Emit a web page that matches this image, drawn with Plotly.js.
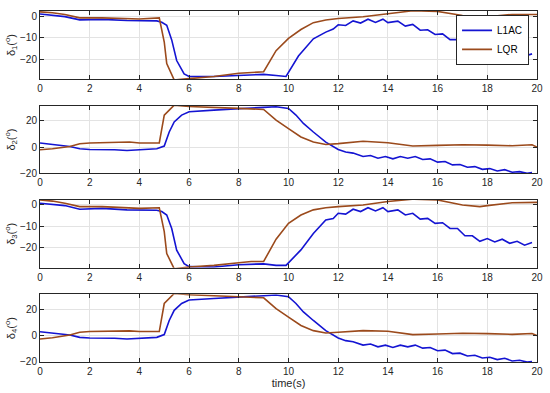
<!DOCTYPE html>
<html>
<head>
<meta charset="utf-8">
<script src="https://cdn.plot.ly/plotly-3.0.1.min.js"></script>
<style>html,body{margin:0;padding:0;background:#fff;}#chart{width:550px;height:393px;}</style>
</head>
<body>
<div id="chart"></div>
<script>
// ---- Data ----
const seriesNames = ['L1AC', 'LQR'];

// delta 1
const t1_lqr = [0,0.5,1.0,1.6,2.5,3.5,4.0,4.8,5.0,5.1,5.4,6,7,8,8.5,9,9.5,10,10.5,11,11.5,12,13,14,15,16,17,17.7,18,19,20];
const d1_lqr = [2.0,1.6,0.8,-0.8,-0.8,-1.2,-1.3,-0.8,-12,-22,-29.6,-29,-28,-26.5,-26,-25.8,-16,-10.3,-6.2,-3,-1.8,-1.1,-0.3,1.2,2.5,2.2,0.3,-0.6,-0.3,0.8,0.8];
const t1_l1 = [0,0.5,1.0,1.6,2.5,3.5,4.0,4.7,4.9,5.1,5.3,5.5,5.8,6,7,8,9,9.5,9.9,10.4,11,11.5,11.8,12,12.3,12.6,12.9,13.2,13.5,13.8,14.0,14.4,14.7,15.0,15.3,15.6,15.9,16.2,16.5,16.8,17.1,17.4,17.7,18,18.3,18.6,18.9,19.2,19.5,19.8];
const d1_l1 = [1.0,0.5,-0.2,-1.7,-1.5,-2.0,-2.0,-2.2,-2.8,-4.2,-11,-20.6,-26.8,-28,-28,-27.5,-27,-27.5,-28,-18.5,-10.5,-7.4,-6,-4,-4.3,-2.2,-3.2,-1.4,-2.9,-1.4,-3,-2.3,-4.6,-3.8,-6.5,-6.3,-8.5,-8.2,-10.9,-10.9,-14.3,-14.3,-16.8,-15.8,-17.3,-16,-17.8,-17,-18.6,-17.5];

// delta 2
const t2_lqr = [0,0.5,1.2,1.6,2,3,3.6,4,4.8,5.0,5.4,6,7,8,9,9.5,10,10.5,11,11.5,12,13,14,14.5,15,16,17,18,19,19.8,20];
const d2_lqr = [-2,-1.3,0.5,2.6,3.1,3.3,3.9,3.1,3.1,24.4,32,31,30,29.5,28.7,20.5,14.1,7.7,3.8,2,2.6,4.4,3.3,2,0.8,1.3,1.8,1.5,1,1.8,0];
const t2_l1 = [0,0.5,1.2,1.6,2,3,3.5,4.7,5.0,5.2,5.4,5.7,6,7,8,9,9.5,10,10.3,10.6,11,11.5,12,12.3,12.6,13,13.3,13.6,13.9,14.2,14.5,14.8,15.1,15.4,15.7,16,16.3,16.6,16.9,17.2,17.5,17.8,18.1,18.4,18.7,19,19.3,19.6,19.8];
const d2_l1 = [3.1,2,0.5,-1.3,-1.8,-2,-2.6,-1.3,0.8,11.5,19.2,24.4,27,28.2,29.5,30.3,30.8,29.5,24.4,18,11.5,3.8,-1.8,-3.8,-4.6,-7.2,-6.4,-8.5,-7.2,-9,-7.2,-8.5,-7.2,-9.5,-9,-11.5,-11,-13.6,-13.3,-15.4,-14.9,-17,-16.4,-18.2,-17.2,-19.2,-18.7,-20,-19.5];

// delta 3
const t3_lqr = [0,0.5,1.0,1.6,2.5,3.5,4.0,4.8,5.0,5.1,5.4,6,7,8,8.5,9,9.5,10,10.5,11,11.5,12,13,14,15,16,17,17.7,18,19,20];
const d3_lqr = [2.3,1.8,0.8,-0.8,-0.8,-1.4,-1.6,-1.3,-12.5,-22.7,-29.8,-29,-28.2,-27,-26.4,-26.4,-16,-8.6,-4.7,-2.3,-1.3,-0.8,0,1.6,2.7,2.3,0,-0.8,-0.3,1,1.2];
const t3_l1 = [0,0.5,1.0,1.6,2.5,3.5,4.0,4.7,4.9,5.1,5.3,5.5,5.8,6,7,8,9,9.5,9.9,10.5,11,11.5,11.8,12,12.3,12.6,12.9,13.2,13.5,13.8,14.0,14.4,14.7,15.0,15.3,15.6,15.9,16.2,16.5,16.8,17.1,17.4,17.7,18,18.3,18.6,18.9,19.2,19.5,19.8];
const d3_l1 = [0.8,0.3,-0.3,-2.0,-1.6,-2.3,-2.3,-2.5,-3.1,-4.7,-11,-21.1,-27.4,-28.8,-29,-27.9,-27.5,-28.2,-28.2,-21,-13.3,-7,-6.3,-3.9,-4.3,-2,-3.1,-1.3,-2.8,-1.3,-3.1,-2.3,-4.7,-3.9,-6.6,-6.3,-8.6,-8.3,-11,-11,-14.4,-14.4,-17,-15.7,-17.3,-16,-17.9,-17,-18.8,-17.5];

// delta 4
const t4_lqr = [0,0.5,1.2,1.6,2,3,3.6,4,4.8,5.0,5.4,6,7,8,9,9.5,10,10.5,11,11.5,12,13,14,14.5,15,16,17,18,19,19.8,20];
const d4_lqr = [-2.5,-1.6,0.5,2.6,3.1,3.3,3.6,3.1,3.1,24.4,32,31,30,29.5,28.7,20.5,14.1,7.7,3.8,2,2.6,3.8,3.3,2,0.8,1.3,1.8,1.5,1,1.6,0];
const t4_l1 = [0,0.5,1.2,1.6,2,3,3.5,4.7,5.0,5.2,5.4,5.7,6,7,8,9,9.5,10,10.3,10.6,11,11.5,12,12.3,12.6,13,13.3,13.6,13.9,14.2,14.5,14.8,15.1,15.4,15.7,16,16.3,16.6,16.9,17.2,17.5,17.8,18.1,18.4,18.7,19,19.3,19.6,19.8];
const d4_l1 = [3.0,2,0.5,-1.3,-1.8,-2,-2.6,-1.3,0.8,11.5,19.2,24.4,27,28.2,29.5,30.3,30.8,29.5,24.4,18,11.5,3.8,-1.8,-3.8,-4.6,-7.2,-6.4,-8.5,-7.2,-9,-7.2,-8.5,-7.2,-9.5,-9,-11.5,-11,-13.6,-13.3,-15.4,-14.9,-17,-16.4,-18.2,-17.2,-19.2,-18.7,-20,-19.7];

const yTitles = ['δ<sub>1</sub>(<sup>o</sup>)','δ<sub>2</sub>(<sup>o</sup>)','δ<sub>3</sub>(<sup>o</sup>)','δ<sub>4</sub>(<sup>o</sup>)'];
const yRanges = [[-29.2,2.4],[-20,31.5],[-29.3,2.3],[-20,31.4]];
const yTicks = [[-20,-10,0],[-20,0,20],[-20,-10,0],[-20,0,20]];
const xTicks = [0,2,4,6,8,10,12,14,16,18,20];
const xTitle = 'time(s)';

const colL1 = '#1414d2';
const colLQR = '#9b4a1c';

const panels = [
  [t1_l1,d1_l1,t1_lqr,d1_lqr],
  [t2_l1,d2_l1,t2_lqr,d2_lqr],
  [t3_l1,d3_l1,t3_lqr,d3_lqr],
  [t4_l1,d4_l1,t4_lqr,d4_lqr]
];

const traces = [];
panels.forEach((p,i)=>{
  const ax = i===0 ? '' : String(i+1);
  traces.push({x:p[0], y:p[1], type:'scatter', mode:'lines', name:seriesNames[0], showlegend:i===0,
    line:{color:colL1,width:1.6}, xaxis:'x'+ax, yaxis:'y'+ax});
  traces.push({x:p[2], y:p[3], type:'scatter', mode:'lines', name:seriesNames[1], showlegend:i===0,
    line:{color:colLQR,width:1.6}, xaxis:'x'+ax, yaxis:'y'+ax});
});

const domains = [[0.806,1.0],[0.5376,0.730],[0.2687,0.4615],[0,0.193]];
const font = {family:'Liberation Sans, Arial, sans-serif', size:10, color:'#262626'};
const layout = {
  width:550, height:393,
  margin:{l:40, r:13, t:11, b:31},
  paper_bgcolor:'#fff', plot_bgcolor:'#fff',
  font:font,
  showlegend:true,
  legend:{x:0.984, y:0.989, xanchor:'right', yanchor:'top', bgcolor:'#fff',
    bordercolor:'#262626', borderwidth:1, font:{family:font.family,size:10,color:'#000'},
    tracegroupgap:0, itemwidth:30},
};
for(let i=0;i<4;i++){
  const ax = i===0 ? '' : String(i+1);
  const xa = {
    domain:[0,1], anchor:'y'+ax, range:[0,20], tickvals:xTicks,
    showline:true, mirror:'ticks', linecolor:'#262626', linewidth:1,
    ticks:'inside', ticklen:4, tickcolor:'#262626',
    showgrid:true, gridcolor:'#e3e3e3', zeroline:false, tickfont:font
  };
  if(i===3) xa.title = {text:xTitle, font:{family:font.family,size:11,color:'#262626'}, standoff:2};
  layout['xaxis'+ax] = xa;
  layout['yaxis'+ax] = {
    domain:domains[i], anchor:'x'+ax, range:yRanges[i], tickvals:yTicks[i],
    showline:true, mirror:'ticks', linecolor:'#262626', linewidth:1,
    ticks:'inside', ticklen:4, tickcolor:'#262626',
    showgrid:true, gridcolor:'#e3e3e3', zeroline:false, tickfont:font,
    title:{text:yTitles[i], font:{family:font.family,size:11,color:'#262626'}, standoff:2}
  };
}
Plotly.newPlot('chart', traces, layout, {displayModeBar:false, staticPlot:true});
</script>
</body>
</html>
